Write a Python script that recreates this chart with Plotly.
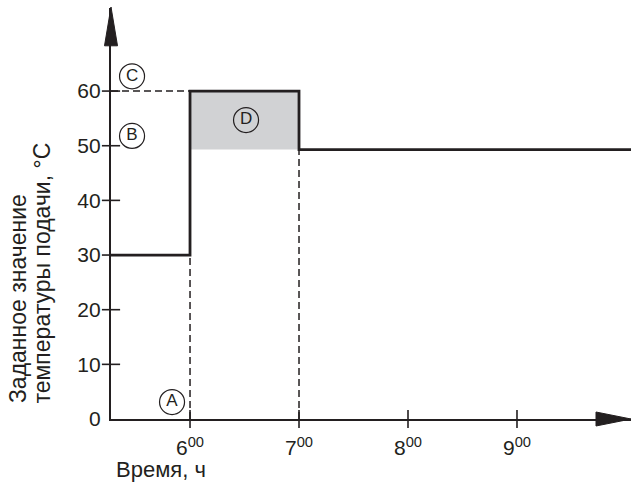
import plotly.graph_objects as go

# --- data ---
step_hours = [5.275, 6, 6, 7, 7, 10.046]
step_temps = [30, 30, 60, 60, 49.3, 49.3]
boost_hours = [6, 7]
boost_low = 49.3
boost_high = 60
x_ticks = [6, 7, 8, 9]
x_tick_labels = ["6<sup>00</sup>", "7<sup>00</sup>", "8<sup>00</sup>", "9<sup>00</sup>"]
y_ticks = [0, 10, 20, 30, 40, 50, 60]
y_tick_labels = ["0", "10", "20", "30", "40", "50", "60"]
marker_labels = ["C", "B", "D", "A"]
marker_x = [5.468, 5.468, 6.514, 5.835]
marker_y = [62.7, 51.8, 54.7, 3.1]
x_range = [5.275, 10.046]
y_range = [0, 75.2]

INK = "#231f20"
FONT = "Liberation Sans, Arial, sans-serif"

fig = go.Figure()

# gray boost area
fig.add_trace(go.Scatter(
    x=[boost_hours[0], boost_hours[1], boost_hours[1], boost_hours[0], boost_hours[0]],
    y=[boost_low, boost_low, boost_high, boost_high, boost_low],
    fill="toself", fillcolor="#d1d2d4", line=dict(width=0), mode="lines",
    hoverinfo="skip", showlegend=False))

# dashed guide lines
dash = dict(color=INK, width=1.5, dash="7px,4px")
fig.add_trace(go.Scatter(x=[x_range[0], boost_hours[0]], y=[boost_high, boost_high],
                         mode="lines", line=dash, showlegend=False, cliponaxis=False))
fig.add_trace(go.Scatter(x=[boost_hours[0], boost_hours[0]], y=[0, step_temps[1]],
                         mode="lines", line=dash, showlegend=False))
fig.add_trace(go.Scatter(x=[boost_hours[1], boost_hours[1]], y=[0, boost_low],
                         mode="lines", line=dash, showlegend=False))

# step line
fig.add_trace(go.Scatter(x=step_hours, y=step_temps, mode="lines",
                         line=dict(color=INK, width=2.8), showlegend=False,
                         cliponaxis=False))

# crossing tick marks
fig.add_trace(go.Scatter(x=[x_range[0]] * (len(y_ticks) - 1), y=y_ticks[1:],
                         mode="markers", cliponaxis=False, showlegend=False,
                         marker=dict(symbol="line-ew", size=13,
                                     line=dict(color=INK, width=1.6))))
fig.add_trace(go.Scatter(x=x_ticks, y=[0] * len(x_ticks),
                         mode="markers", cliponaxis=False, showlegend=False,
                         marker=dict(symbol="line-ns", size=13,
                                     line=dict(color=INK, width=1.6))))

# circled letters
fig.add_trace(go.Scatter(x=marker_x, y=marker_y, mode="markers+text",
                         text=marker_labels, textposition="middle center",
                         textfont=dict(family=FONT, size=17, color=INK),
                         cliponaxis=False, showlegend=False,
                         marker=dict(symbol="circle", size=25, color="rgba(255,255,255,0)",
                                     line=dict(color=INK, width=1.2))))

# arrowheads (axis decoration)
fig.add_shape(type="path", xref="paper", yref="paper",
              path="M 0.9327,-0.017 L 1.0,0 L 0.9327,0.017 Z",
              fillcolor=INK, line=dict(color=INK, width=1))
fig.add_shape(type="path", xref="paper", yref="paper",
              path="M -0.0125,0.908 L 0,1.0024 L 0.0125,0.908 Z",
              fillcolor=INK, line=dict(color=INK, width=1))

# y title (two start-aligned lines)
fig.add_annotation(text="Заданное значение", xref="paper", yref="paper",
                   x=-0.1798, y=0.034, textangle=-90, showarrow=False,
                   xanchor="center", yanchor="bottom",
                   font=dict(family=FONT, size=23, color=INK))
fig.add_annotation(text="температуры подачи, °C", xref="paper", yref="paper",
                   x=-0.1327, y=0.034, textangle=-90, showarrow=False,
                   xanchor="center", yanchor="bottom",
                   font=dict(family=FONT, size=23, color=INK))

# x title
fig.add_annotation(text="Время, ч", xref="paper", yref="paper",
                   x=0.097, y=-0.124, showarrow=False,
                   xanchor="center", yanchor="middle",
                   font=dict(family=FONT, size=22, color=INK))

fig.update_layout(
    width=631, height=482,
    margin=dict(l=111, r=0, t=8, b=63),
    paper_bgcolor="white", plot_bgcolor="white",
    font=dict(family=FONT, size=21, color=INK),
    xaxis=dict(range=x_range, showgrid=False, zeroline=False,
               showline=True, linecolor=INK, linewidth=2.4,
               tickmode="array", tickvals=x_ticks, ticktext=x_tick_labels,
               ticks="", ticklabelstandoff=9),
    yaxis=dict(range=y_range, showgrid=False, zeroline=False,
               showline=True, linecolor=INK, linewidth=2.4,
               tickmode="array", tickvals=y_ticks, ticktext=y_tick_labels,
               ticks="", ticklabelstandoff=4),
)

fig.write_html("out.html", config={"displayModeBar": False},
               post_script="document.body.style.margin='0';document.body.style.overflow='hidden';")
